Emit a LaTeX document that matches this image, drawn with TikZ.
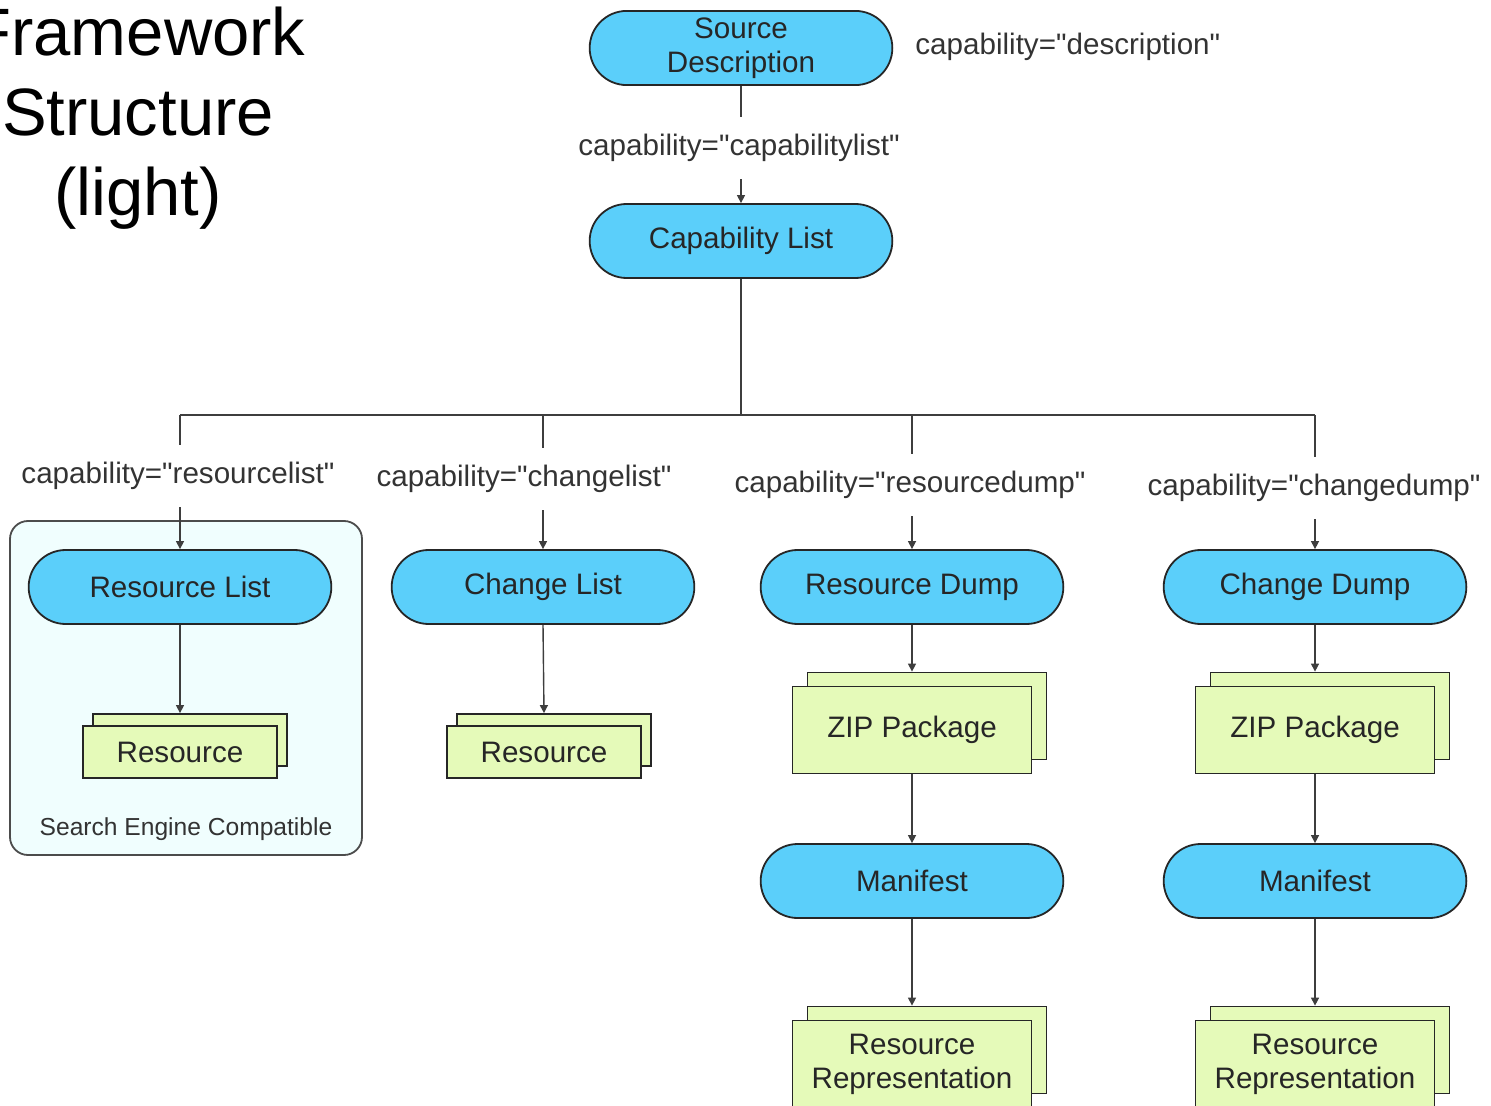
\documentclass[tikz,border=0pt]{standalone}
\usepackage{fontspec}
\setmainfont{Liberation Sans}
\usepackage{tikz}
\usetikzlibrary{shapes.misc}
\usetikzlibrary{shadows}
\usetikzlibrary{arrows.meta}
\usetikzlibrary{positioning}
\definecolor{capblue}{RGB}{91,207,250}
\definecolor{pkggreen}{RGB}{229,250,185}
\definecolor{boxcyan}{RGB}{240,254,254}
\definecolor{linegray}{RGB}{62,62,62}
\newcommand{\sq}{\XeTeXglyph\XeTeXcharglyph"22\relax}
\tikzset{edge/.style = {-{Triangle[length=4pt,width=4pt]}, draw=linegray, line width=0.7pt}}
\tikzset{link/.style = {draw=linegray, line width=0.7pt}}
\tikzset{capnode/.style = {rounded rectangle, draw=black!85, line width=0.9pt, fill=capblue,
    minimum width=158pt, minimum height=37pt, align=center, text=black!85,
    font=\fontsize{14.8}{17}\selectfont}}
\tikzset{pkgbox/.style = {rectangle, draw=black!85, line width=0.9pt, fill=pkggreen,
    align=center, text=black!85, font=\fontsize{14.8}{17}\selectfont}}
\tikzset{pkg/.style = {pkgbox, minimum width=97pt, minimum height=26pt,
    copy shadow={shadow xshift=5pt, shadow yshift=6pt}}}
\tikzset{bigpkg/.style = {pkgbox, minimum width=119.5pt, minimum height=43.5pt,
    copy shadow={shadow xshift=7.5pt, shadow yshift=7pt}}}
\tikzset{caplabel/.style = {text=black!80, inner xsep=2pt, inner ysep=8.5pt,
    font=\fontsize{14.8}{17}\selectfont}}

\begin{document}
\begin{tikzpicture}[x=0.5pt,y=-0.5pt]
		\useasboundingbox (0,0) rectangle (1491,1106);

		%search engine frame goes first, behind everything
		\node[draw=black!70, line width=0.9pt, fill=boxcyan, rounded corners=9pt,
			minimum width=176pt, minimum height=167pt](sebox) at (186,688){};
		\node[text=black!80, font=\fontsize{12.3}{14}\selectfont](setext) at (186,829){Search Engine Compatible};

		%title
		\node[align=center, font=\fontsize{33.5}{40}\selectfont](title) at (138,118){Framework\\Structure\\(light)};

		%top of the tree
		\node[capnode](sd) at (741,48){Source\\Description};
		\node[caplabel, anchor=west](sd-lbl) at (911,47){capability=\sq description\sq};
		\node[caplabel](cl-lbl) at (739,148){capability=\sq capabilitylist\sq};
		\node[capnode](cl) at (741,241){Capability List};
		\coordinate(bus) at (741,415);

		%capability labels
		\node[caplabel](rl-lbl) at (178,476){capability=\sq resourcelist\sq};
		\node[caplabel](chl-lbl) at (524,479){capability=\sq changelist\sq};
		\node[caplabel](rd-lbl) at (910,485){capability=\sq resourcedump\sq};
		\node[caplabel](chd-lbl) at (1314,488){capability=\sq changedump\sq};

		%lists and dumps
		\node[capnode](rl) at (180,587){Resource List};
		\node[capnode](chl) at (543,587){Change List};
		\node[capnode](rd) at (912,587){Resource Dump};
		\node[capnode](chd) at (1315,587){Change Dump};

		\node[pkg](rlres) at (180,752){Resource};
		\node[pkg](chlres) at (544,752){Resource};
		\node[bigpkg](rdzip) at (912,730){ZIP Package};
		\node[bigpkg](chdzip) at (1315,730){ZIP Package};
		\node[capnode](rdman) at (912,881){Manifest};
		\node[capnode](chdman) at (1315,881){Manifest};
		\node[bigpkg](rdrep) at (912,1064){Resource\\Representation};
		\node[bigpkg](chdrep) at (1315,1064){Resource\\Representation};

		%connectors
		\draw[link] (sd.south) -- (sd.south |- cl-lbl.north);
		\draw[edge] (sd.south |- cl-lbl.south) -- (cl.north);
		\draw[link] (cl.south) -- (bus);
		\draw[link] (rl |- bus) -- (chd |- bus);
		\foreach \n in {rl,chl,rd,chd}{
			\draw[link] (\n |- bus) -- (\n |- \n-lbl.north);
			\draw[edge] (\n |- \n-lbl.south) -- (\n.north);
		}
		\draw[edge] (rl.south) -- ([yshift=6pt]rlres.north);
		\draw[edge] (chl.south) -- ([yshift=6pt]chlres.north);
		\draw[edge] (rd.south) -- ([yshift=7pt]rdzip.north);
		\draw[edge] (chd.south) -- ([yshift=7pt]chdzip.north);
		\draw[edge] (rdzip.south) -- (rdman.north);
		\draw[edge] (chdzip.south) -- (chdman.north);
		\draw[edge] (rdman.south) -- ([yshift=7pt]rdrep.north);
		\draw[edge] (chdman.south) -- ([yshift=7pt]chdrep.north);
\end{tikzpicture}
\end{document}
